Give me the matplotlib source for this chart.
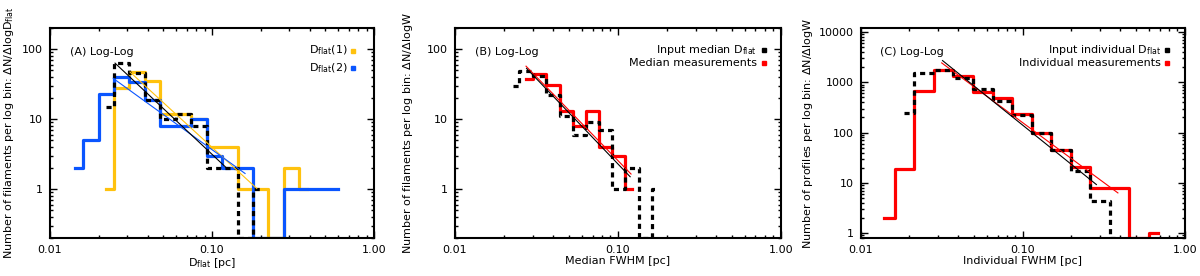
import matplotlib
matplotlib.use("Agg")
import matplotlib.pyplot as plt
from matplotlib.ticker import FixedLocator, FixedFormatter, LogLocator, NullFormatter
import numpy as np

plt.rcParams['font.family'] = ['DejaVu Sans']
plt.rcParams['mathtext.fontset'] = 'dejavusans'

# ---------------- Panel A data ----------------
a_x = [0.01426, 0.01774, 0.02213, 0.02754, 0.03428, 0.04266, 0.05321, 0.06622, 0.08260,
       0.1028, 0.1282, 0.1596, 0.1986, 0.2477, 0.3083, 0.3837, 0.4786, 0.5957]
a_blue = [2, 5, 23, 40, 34, 19, 8, 8, 10, 3, 2, 2, 0, 0, 1, 1, 1, 1]
a_yellow_x = a_x[2:16]
a_yellow = [1, 28, 47, 35, 12, 12, 10, 4, 4, 1, 1, 0, 2, 1]
a_black_x = a_x[2:13]
a_black = [15, 63, 46, 19, 10, 12, 8, 2, 2, 0, 1]
a_fit_black_x = [0.0252, 0.123]
a_fit_black_y = [63, 2.0]
a_fit_yellow_x = [0.0312, 0.189]
a_fit_yellow_y = [47, 1.02]
a_fit_blue_x = [0.0246, 0.160]
a_fit_blue_y = [38, 1.67]

# ---------------- Panel B data ----------------
b_x = [0.02265, 0.02710, 0.03281, 0.03972, 0.04808, 0.05754, 0.06918, 0.08356,
       0.1009, 0.1216, 0.1469, 0.1774]
b_black = [30, 48, 41, 22, 11, 6, 9, 7, 1, 2, 0, 1]
b_red_x = b_x[1:10]
b_red = [37, 44, 31, 13, 8, 13, 4, 3, 1]
b_fit_red_x = [0.0273, 0.1205]
b_fit_red_y = [57, 1.64]
b_fit_black_x = [0.0275, 0.119]
b_fit_black_y = [53, 1.5]

# ---------------- Panel C data ----------------
c_x = [0.01396, 0.01845, 0.02432, 0.03214, 0.04246, 0.05610, 0.07413, 0.09772,
       0.1291, 0.1706, 0.2254, 0.2979, 0.3926, 0.5188, 0.6855]
c_red = [2, 19, 680, 1750, 1350, 650, 490, 230, 100, 45, 21, 8, 8, 0, 1]
c_black_x = c_x[1:13]
c_black = [250, 1530, 1750, 1220, 735, 430, 222, 100, 46, 17, 4.4, 0]
c_fit_black_x = [0.032, 0.285]
c_fit_black_y = [2700, 9.25]
c_fit_red_x = [0.0316, 0.387]
c_fit_red_y = [2430, 6.3]

YELLOW = '#FFC20E'
BLUE = '#0A55FF'
RED = '#FF0000'
LW = 2.3
DASH = (0, (1.6, 1.3))

fig = plt.figure(figsize=(12, 2.76), dpi=100)

axw = 324 / 1200
axh = 210 / 276
bottom = 38 / 276
axA = fig.add_axes([50 / 1200, bottom, axw, axh])
axB = fig.add_axes([455 / 1200, bottom, 325.7 / 1200, axh])
axC = fig.add_axes([860.7 / 1200, bottom, axw, axh])


def floor(vals, lo):
    return [v if v > 0 else lo for v in vals]


def style(ax, ylim, yticks, yticklabels, ylabel, xlabel, ylabx):
    ax.set_xscale('log')
    ax.set_yscale('log')
    ax.set_xlim(0.01, 1.0)
    ax.set_ylim(*ylim)
    ax.xaxis.set_major_locator(FixedLocator([0.01, 0.1, 1.0]))
    ax.xaxis.set_major_formatter(FixedFormatter(['0.01', '0.10', '1.00']))
    ax.xaxis.set_minor_locator(LogLocator(base=10, subs=np.arange(2, 10)))
    ax.xaxis.set_minor_formatter(NullFormatter())
    ax.yaxis.set_major_locator(FixedLocator(yticks))
    ax.yaxis.set_major_formatter(FixedFormatter(yticklabels))
    ax.yaxis.set_minor_locator(LogLocator(base=10, subs=np.arange(2, 10)))
    ax.yaxis.set_minor_formatter(NullFormatter())
    ax.tick_params(which='both', direction='in', top=True, right=True, width=1.0,
                   labelsize=8, colors='black')
    ax.tick_params(which='major', length=5, pad=5)
    ax.tick_params(which='minor', length=2.5)
    for s in ax.spines.values():
        s.set_linewidth(1.5)
    ax.set_ylabel(ylabel, fontsize=8)
    ax.set_xlabel(xlabel, fontsize=8)
    ax.yaxis.set_label_coords(ylabx, 0.5)
    ax.xaxis.set_label_coords(0.5, -0.085)


# ---------------- Panel A ----------------
lo = 0.2
axA.step(a_yellow_x, floor(a_yellow, lo), where='mid', color=YELLOW, lw=LW)
axA.step(a_x, floor(a_blue, lo), where='mid', color=BLUE, lw=LW)
axA.step(a_black_x, floor(a_black, lo), where='mid', color='black', lw=LW, ls=DASH)
axA.plot(a_fit_yellow_x, a_fit_yellow_y, color=YELLOW, lw=0.8)
axA.plot(a_fit_blue_x, a_fit_blue_y, color=BLUE, lw=0.8)
axA.plot(a_fit_black_x, a_fit_black_y, color='black', lw=0.8)
style(axA, (0.2, 200), [1, 10, 100], ['1', '10', '100'],
      r'Number of filaments per log bin: $\Delta$N/$\Delta$logD$_{\rm flat}$',
      r'D$_{\rm flat}$ [pc]', -34 / 324)
axA.text(0.062, 0.886, '(A) Log-Log', transform=axA.transAxes, fontsize=8, va='center')
axA.text(0.917, 0.892, r'D$_{\rm flat}$(1)', transform=axA.transAxes, fontsize=8,
         ha='right', va='center')
axA.text(0.917, 0.808, r'D$_{\rm flat}$(2)', transform=axA.transAxes, fontsize=8,
         ha='right', va='center')
axA.plot([0.936], [0.892], 's', color=YELLOW, ms=3.5, transform=axA.transAxes)
axA.plot([0.936], [0.808], 's', color=BLUE, ms=3.5, transform=axA.transAxes)

# ---------------- Panel B ----------------
axB.step(b_red_x, floor(b_red, lo), where='mid', color=RED, lw=LW)
axB.step(b_x, floor(b_black, lo), where='mid', color='black', lw=LW, ls=DASH)
axB.plot(b_fit_red_x, b_fit_red_y, color=RED, lw=0.8)
axB.plot(b_fit_black_x, b_fit_black_y, color='black', lw=0.8)
style(axB, (0.2, 200), [1, 10, 100], ['1', '10', '100'],
      r'Number of filaments per log bin: $\Delta$N/$\Delta$logW',
      'Median FWHM [pc]', -40 / 325.7)
axB.text(0.061, 0.886, '(B) Log-Log', transform=axB.transAxes, fontsize=8, va='center')
axB.text(0.927, 0.895, r'Input median D$_{\rm flat}$', transform=axB.transAxes, fontsize=8,
         ha='right', va='center')
axB.text(0.927, 0.835, 'Median measurements', transform=axB.transAxes, fontsize=8,
         ha='right', va='center')
axB.plot([0.949], [0.895], 's', color='black', ms=3.5, transform=axB.transAxes)
axB.plot([0.949], [0.835], 's', color=RED, ms=3.5, transform=axB.transAxes)

# ---------------- Panel C ----------------
loc = 0.8
axC.step(c_x, floor(c_red, loc), where='mid', color=RED, lw=LW)
axC.step(c_black_x, floor(c_black, loc), where='mid', color='black', lw=LW, ls=DASH)
axC.plot(c_fit_red_x, c_fit_red_y, color=RED, lw=0.8)
axC.plot(c_fit_black_x, c_fit_black_y, color='black', lw=0.8)
style(axC, (0.8, 12000), [1, 10, 100, 1000, 10000], ['1', '10', '100', '1000', '10000'],
      r'Number of profiles per log bin: $\Delta$N/$\Delta$logW',
      'Individual FWHM [pc]', -45.7 / 324)
axC.text(0.059, 0.886, '(C) Log-Log', transform=axC.transAxes, fontsize=8, va='center')
axC.text(0.928, 0.895, r'Input individual D$_{\rm flat}$', transform=axC.transAxes,
         fontsize=8, ha='right', va='center')
axC.text(0.928, 0.832, 'Individual measurements', transform=axC.transAxes, fontsize=8,
         ha='right', va='center')
axC.plot([0.944], [0.895], 's', color='black', ms=3.5, transform=axC.transAxes)
axC.plot([0.944], [0.832], 's', color=RED, ms=3.5, transform=axC.transAxes)

fig.savefig('out.png', dpi=100)
